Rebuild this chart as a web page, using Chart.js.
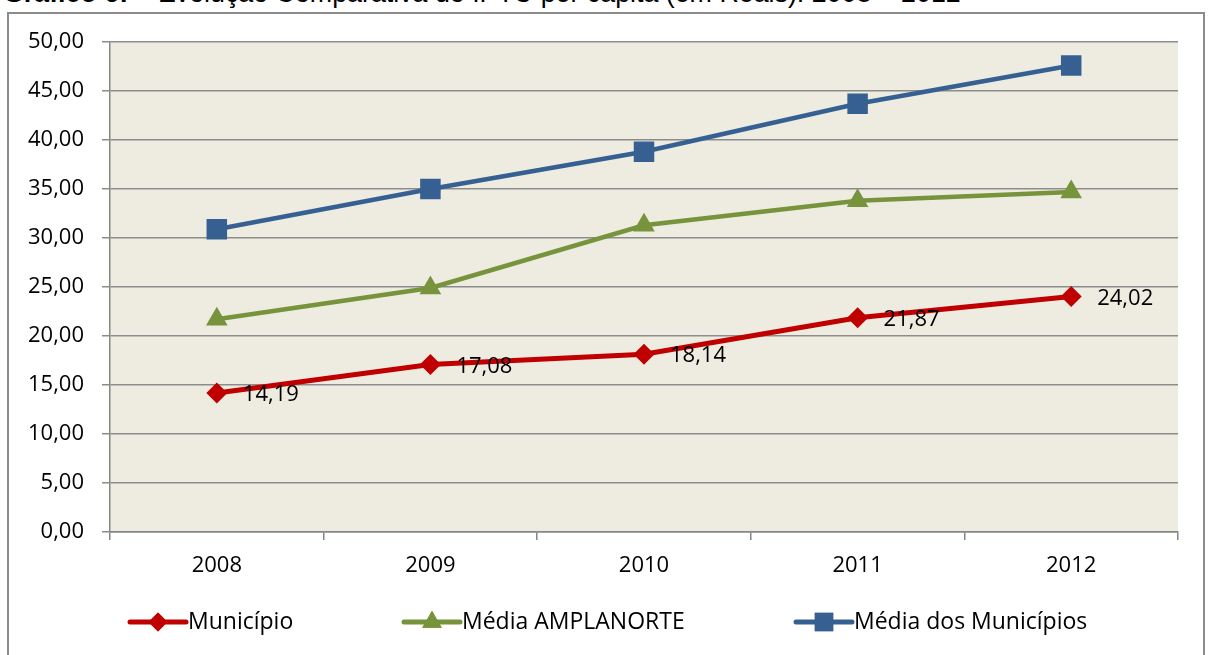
<!DOCTYPE html>
<html>
<head>
<meta charset="utf-8">
<script src="https://cdn.jsdelivr.net/npm/chart.js@4.4.1/dist/chart.umd.min.js"></script>
<style>
  html, body { margin: 0; padding: 0; background: #ffffff; overflow: hidden; }
  #title { position: absolute; left: 3px; top: -22px; font-family: "Liberation Sans", Arial, sans-serif; font-size: 26.8px; line-height: 31px; color: #000; white-space: nowrap; }
  #title b { font-weight: bold; }
  #frame { position: absolute; left: 7px; top: 12px; width: 1194px; height: 700px; border: 2px solid #8c8c8c; }
  #wrap { position: absolute; left: 0; top: 0; width: 1209px; height: 655px; }
</style>
</head>
<body>
<div id="title"><b>Gráfico 6:</b> – Evolução Comparativa do IPTU per capita (em Reais): 2008 – 2012</div>
<div id="frame"></div>
<div id="wrap"><canvas id="c" width="1209" height="655"></canvas></div>
<script>
const categories = ['2008', '2009', '2010', '2011', '2012'];
const municipio = [14.19, 17.08, 18.14, 21.87, 24.02];
const mediaAmplanorte = [21.7, 24.9, 31.3, 33.8, 34.7];
const mediaMunicipios = [30.9, 35.0, 38.8, 43.7, 47.6];
const seriesNames = ['Município', 'Média AMPLANORTE', 'Média dos Municípios'];

const FONT = '"Open Sans", sans-serif';
const fmt = v => v.toFixed(2).replace('.', ',');

const bgPlugin = {
  id: 'bg',
  beforeDraw(chart) {
    const a = chart.chartArea, ctx = chart.ctx;
    ctx.save();
    ctx.fillStyle = '#EEECE1';
    ctx.fillRect(a.left, a.top, a.right - a.left, a.bottom - a.top);
    ctx.restore();
  }
};

const labelPlugin = {
  id: 'labels',
  afterDatasetsDraw(chart) {
    const ctx = chart.ctx;
    const meta = chart.getDatasetMeta(0);
    ctx.save();
    ctx.font = '22px ' + FONT;
    ctx.fillStyle = '#000';
    ctx.textAlign = 'left';
    ctx.textBaseline = 'middle';
    meta.data.forEach((pt, i) => {
      ctx.fillText(fmt(municipio[i]), pt.x + 26, pt.y + 2);
    });
    ctx.restore();
  }
};

const legendPlugin = {
  id: 'customLegend',
  afterDraw(chart) {
    const ctx = chart.ctx;
    const starts = [130, 404, 796];
    const y = 622;
    ctx.save();
    chart.data.datasets.forEach((ds, i) => {
      const x0 = starts[i];
      ctx.strokeStyle = ds.borderColor;
      ctx.lineWidth = 5;
      ctx.lineCap = 'round';
      ctx.beginPath();
      ctx.moveTo(x0, y);
      ctx.lineTo(x0 + 56, y);
      ctx.stroke();
      ctx.fillStyle = ds.borderColor;
      ctx.beginPath();
      Chart.helpers.drawPoint(ctx, { pointStyle: ds.pointStyle, radius: ds.pointRadius * 0.9, borderWidth: 0 }, x0 + 28, y);
      ctx.fill();
      ctx.fillStyle = '#000';
      ctx.font = '23px ' + FONT;
      ctx.textAlign = 'left';
      ctx.textBaseline = 'middle';
      ctx.fillText(ds.label, x0 + 58, y);
    });
    ctx.restore();
  }
};

new Chart(document.getElementById('c'), {
  type: 'line',
  data: {
    labels: categories,
    datasets: [
      { label: seriesNames[0], data: municipio, borderColor: '#C00000', backgroundColor: '#C00000', borderWidth: 5, pointStyle: 'rectRot', pointRadius: 10.5, pointBorderWidth: 0 },
      { label: seriesNames[1], data: mediaAmplanorte, borderColor: '#77933C', backgroundColor: '#77933C', borderWidth: 4.5, pointStyle: 'triangle', pointRadius: 12.5, pointBorderWidth: 0 },
      { label: seriesNames[2], data: mediaMunicipios, borderColor: '#376092', backgroundColor: '#376092', borderWidth: 4.5, pointStyle: 'rect', pointRadius: 14.5, pointBorderWidth: 0 }
    ]
  },
  options: {
    responsive: false,
    animation: false,
    events: [],
    layout: { padding: { left: 0, right: 31, top: 42, bottom: 0 } },
    plugins: { legend: { display: false }, tooltip: { enabled: false }, title: { display: false } },
    scales: {
      x: {
        offset: true,
        grid: { offset: true, drawOnChartArea: false, drawTicks: true, tickLength: 8, color: '#868686', lineWidth: 1.5 },
        border: { display: true, color: '#868686', width: 1.5 },
        ticks: { font: { family: FONT, size: 22 }, color: '#000', padding: 13 },
        afterFit(s) { s.height = 123; }
      },
      y: {
        min: 0, max: 50,
        ticks: { stepSize: 5, font: { family: FONT, size: 22 }, color: '#000', padding: 18, callback: v => fmt(v) },
        grid: { color: '#8c8c8c', lineWidth: 1.5, tickLength: 8 },
        border: { display: true, color: '#868686', width: 1.5 },
        afterFit(s) { s.width = 110; }
      }
    }
  },
  plugins: [bgPlugin, labelPlugin, legendPlugin]
});
</script>
</body>
</html>
